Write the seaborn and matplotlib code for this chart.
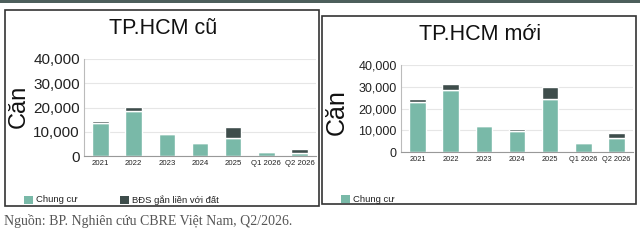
import matplotlib
matplotlib.use("Agg")
import matplotlib.pyplot as plt
import seaborn as sns
import pandas as pd
from matplotlib.patches import Rectangle
from matplotlib.ticker import FuncFormatter

# ---- data ----
categories = ["2021", "2022", "2023", "2024", "2025", "Q1 2026", "Q2 2026"]
old_apartment = [13700, 18600, 8900, 5400, 7300, 1800, 1100]
old_landed = [700, 1700, 0, 0, 4600, 0, 1800]
new_apartment = [22900, 28600, 12100, 9800, 24400, 4400, 6700]
new_landed = [1500, 2600, 0, 900, 5600, 0, 2000]
yticks = [0, 10000, 20000, 30000, 40000]
titles = ["TP.HCM cũ", "TP.HCM mới"]
legend_labels = ["Chung cư", "BĐS gắn liền với đất"]
ylabel = "Căn"
source = "Nguồn: BP. Nghiên cứu CBRE Việt Nam, Q2/2026."

TEAL = "#79b9a8"
DARK = "#3e4d4b"

sns.set_theme(style="white")
plt.rcParams['font.family'] = ['Liberation Sans', 'DejaVu Sans']

W, H = 640, 240
fig = plt.figure(figsize=(6.4, 2.4), dpi=100)


def fx(x):
    return x / W


def fy(y):
    return 1 - y / H


def rect(x0, y0, x1, y1):
    return [fx(x0), fy(y1), fx(x1) - fx(x0), fy(y0) - fy(y1)]


def add_box(x0, y0, x1, y1, **kw):
    r = Rectangle((fx(x0), fy(y1)), fx(x1) - fx(x0), fy(y0) - fy(y1),
                  transform=fig.transFigure, **kw)
    fig.add_artist(r)


# top strip
add_box(0, 0, 640, 3, facecolor="#4d5f5c", edgecolor="none")


def panel(box, axbox, apt, land, title, title_xy, ylab_xy, ytick_fs,
          xtick_fs, ylab_fs, legend_items):
    add_box(*box, fill=False, edgecolor="#333333", lw=1.2)
    ax = fig.add_axes(rect(*axbox))
    df = pd.DataFrame({"cat": categories, "apt": apt, "land": land})
    sns.barplot(data=df, x="cat", y="apt", color=TEAL, saturation=1,
                width=0.5, errorbar=None, ax=ax)
    sns.barplot(data=df, x="cat", y="land", color=DARK, saturation=1,
                width=0.5, errorbar=None, ax=ax, bottom=df["apt"])
    ax.set_xlim(-0.5, len(categories) - 0.5)
    ax.set_ylim(0, 40000)
    ax.set_yticks(yticks)
    ax.yaxis.set_major_formatter(FuncFormatter(lambda v, p: f"{int(v):,}"))
    ax.set_xlabel("")
    ax.set_ylabel("")
    ax.yaxis.grid(True, color="#e6e6e6", lw=0.8)
    ax.set_axisbelow(True)
    for s in ["top", "right"]:
        ax.spines[s].set_visible(False)
    ax.spines["left"].set_color("#bbbbbb")
    ax.spines["bottom"].set_color("#999999")
    ax.spines["left"].set_linewidth(0.8)
    ax.spines["bottom"].set_linewidth(0.8)
    ax.tick_params(axis="y", length=0, pad=3, labelsize=ytick_fs, labelcolor="#222222")
    ax.tick_params(axis="x", length=0, pad=3, labelsize=xtick_fs, labelcolor="#222222")
    fig.text(fx(title_xy[0]), fy(title_xy[1]), title, ha="center", va="center",
             fontsize=15.5, color="#111111")
    fig.text(fx(ylab_xy[0]), fy(ylab_xy[1]), ylabel, ha="center", va="center",
             rotation=90, fontsize=ylab_fs, color="#111111")
    for (sx, sy, lbl) in legend_items:
        add_box(sx, sy, sx + 9, sy + 8, facecolor=TEAL if lbl == legend_labels[0] else DARK,
                edgecolor="none")
        fig.text(fx(sx + 12), fy(sy + 4), lbl, ha="left", va="center",
                 fontsize=6.8, color="#222222")
    return ax


panel((5, 10, 319, 206), (84, 59, 316, 156), old_apartment, old_landed,
      titles[0], (163, 29), (19, 106), 11, 5.6, 17,
      [(24, 196, legend_labels[0]), (120, 196, legend_labels[1])])
panel((322, 16, 636, 204), (401, 65, 633, 152.3), new_apartment, new_landed,
      titles[1], (480, 34), (337, 112), 9, 5.3, 18,
      [(341, 195, legend_labels[0])])

fig.text(fx(4), fy(221), source, ha="left", va="center",
         family=["Liberation Serif", "DejaVu Serif"], fontsize=10, color="#555555")

fig.savefig("out.png", dpi=100)
